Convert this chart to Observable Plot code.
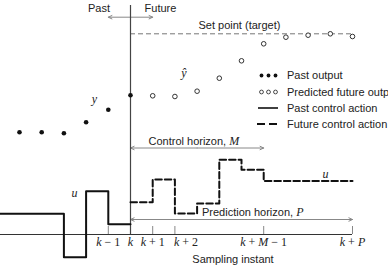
<!DOCTYPE html>
<html><head><meta charset="utf-8">
<script src="https://cdn.jsdelivr.net/npm/d3@7"></script>
<script src="https://cdn.jsdelivr.net/npm/@observablehq/plot@0.6"></script>
<style>
html,body{margin:0;padding:0;background:#fff;overflow:hidden;}
#chart svg{display:block;overflow:hidden;}
</style></head><body><div id="chart"></div>
<script>
// Sampling instants are counted relative to k (k = 0)
const pastInstants = [-5, -4, -3, -2, -1, 0];
const pastOutput = [102.3, 102.3, 101.3, 112.3, 124.7, 139.3];
const futureInstants = [1, 2, 3, 4, 5, 6, 7, 8, 9, 10];
const predictedOutput = [138.7, 138, 143.3, 156.3, 173.7, 190.7, 197.3, 199.3, 200.7, 198];
const setPoint = 200.7;
const pastMoveInstants = [-6, -3, -2, -1];
const pastControl = [20.7, -22.7, 43.3, 10.3];
const futureMoveInstants = [0, 1, 2, 3, 4, 5, 6];
const futureControl = [32.3, 55, 21, 31, 74.7, 64.7, 53.5];
const controlHorizonEnd = 6;      // k + M - 1
const predictionHorizonEnd = 10;  // k + P
const tickInstants = [-1, 0, 1, 2, 6, 10];
const tickLabels = ["k − 1", "k", "k + 1", "k + 2", "k + M − 1", "k + P"];
const legendLabels = ["Past output", "Predicted future output", "Past control action", "Future control action"];
const horizonLabels = ["Control horizon, M", "Prediction horizon, P"];

// ---- layout ----
const W = 388, H = 265;
const STEP = 22.2, K_PX = 130, AXIS_PX = 234;
const X = px => (px - K_PX) / STEP;   // pixel -> sample instant (layout helper)
const Y = py => AXIS_PX - py;         // pixel -> level (layout helper)
const xDomain = [X(0), X(W)];
const yDomain = [Y(H), Y(0)];

const SANS = "'Liberation Sans', Arial, sans-serif";
const SERIF = "'Liberation Serif', 'Times New Roman', serif";
const INK = "#222";

const pastSteps = pastMoveInstants.map((t, i) => ({t, u: pastControl[i]}))
  .concat([{t: 0, u: pastControl[pastControl.length - 1]}]);
const futureSteps = futureMoveInstants.map((t, i) => ({t, u: futureControl[i]}))
  .concat([{t: predictionHorizonEnd, u: futureControl[futureControl.length - 1]}]);
const pastPts = pastInstants.map((t, i) => ({t, y: pastOutput[i]}));
const predPts = futureInstants.map((t, i) => ({t, y: predictedOutput[i]}));
const ticks = tickInstants.map((t, i) => ({t, label: tickLabels[i]}));

// legend layout
const legendRowsPx = [75, 91.5, 107.5, 123.5];
const legendText = legendLabels.map((label, i) => ({x: X(286.5), y: Y(legendRowsPx[i]), label}));
const legendDotXs = [261, 268, 275].map(X);
const legendDots = legendDotXs.map(x => ({x, y: Y(legendRowsPx[0])}));
const legendCircles = legendDotXs.map(x => ({x, y: Y(legendRowsPx[1])}));

const arrows = [
  {x1: 0, x2: -1, y: Y(16.7)}, {x1: 0, x2: 1, y: Y(16.7)},
  {x1: controlHorizonEnd / 2, x2: 0, y: Y(147.5)}, {x1: controlHorizonEnd / 2, x2: controlHorizonEnd, y: Y(147.5)},
  {x1: predictionHorizonEnd / 2, x2: 0, y: Y(219)}, {x1: predictionHorizonEnd / 2, x2: predictionHorizonEnd, y: Y(219)}
];

const plot = Plot.plot({
  width: W, height: H,
  marginTop: 0, marginRight: 0, marginBottom: 0, marginLeft: 0,
  x: {domain: xDomain, axis: null},
  y: {domain: yDomain, axis: null},
  style: {fontFamily: SANS, fontSize: "11px", background: "white", color: INK},
  marks: [
    // set point
    Plot.ruleY([setPoint], {x1: 0, x2: predictionHorizonEnd + 0.05, stroke: "#777", strokeWidth: 1, strokeDasharray: "5,3"}),
    // arrows
    Plot.arrow(arrows, {x1: "x1", x2: "x2", y1: "y", y2: "y", stroke: "#888", strokeWidth: 1, headLength: 6, headAngle: 50}),
    // time axis
    Plot.ruleY([0], {x1: xDomain[0], x2: predictionHorizonEnd, stroke: "#333", strokeWidth: 1}),
    Plot.ruleX(ticks, {x: "t", y1: 0, y2: 8, stroke: "#888", strokeWidth: 1}),
    // present instant k
    Plot.ruleX([0], {y1: 0, y2: Y(5), stroke: "#444", strokeWidth: 1.2}),
    // control action
    Plot.line(pastSteps, {x: "t", y: "u", curve: "step-after", stroke: "#111", strokeWidth: 2, clip: true}),
    Plot.line(futureSteps, {x: "t", y: "u", curve: "step-after", stroke: "#111", strokeWidth: 2, strokeDasharray: "6.5,3"}),
    // outputs
    Plot.dot(pastPts, {x: "t", y: "y", r: 2.3, fill: "#111", stroke: "none"}),
    Plot.dot(predPts, {x: "t", y: "y", r: 2.3, fill: "white", stroke: "#333", strokeWidth: 1}),
    // tick labels
    Plot.text(ticks.filter(d => d.label !== "k + 2"), {x: "t", y: Y(242), text: "label", fontFamily: SERIF, fontSize: 12, fill: INK}),
    Plot.text(ticks.filter(d => d.label === "k + 2"), {x: "t", y: Y(242), text: "label", textAnchor: "start", dx: -1, fontFamily: SERIF, fontSize: 12, fill: INK}),
    Plot.text(["Sampling instant"], {x: X(232.5), y: Y(258.5), fill: INK}),
    // annotations
    Plot.text(["Past"], {x: X(98.5), y: Y(8), fill: INK}),
    Plot.text(["Future"], {x: X(160), y: Y(8), fill: INK}),
    Plot.text(["Set point (target)"], {x: X(198), y: Y(25), textAnchor: "start", fill: INK}),
    Plot.text([horizonLabels[0]], {x: X(148), y: Y(141), textAnchor: "start", fill: INK}),
    Plot.text([horizonLabels[1]], {x: X(201.5), y: Y(211.5), textAnchor: "start", fill: INK}),
    Plot.text(["y"], {x: X(94), y: Y(99), fontFamily: SERIF, fontStyle: "italic", fontSize: 12, fill: INK}),
    Plot.text(["ŷ"], {x: X(183.3), y: Y(73), fontFamily: SERIF, fontStyle: "italic", fontSize: 12, fill: INK}),
    Plot.text(["u"], {x: X(74), y: Y(193), fontFamily: SERIF, fontStyle: "italic", fontSize: 12, fill: INK}),
    Plot.text(["u"], {x: X(325), y: Y(174), fontFamily: SERIF, fontStyle: "italic", fontSize: 12, fill: INK}),
    // legend
    Plot.dot(legendDots, {x: "x", y: "y", r: 1.9, fill: "#111", stroke: "none"}),
    Plot.dot(legendCircles, {x: "x", y: "y", r: 1.9, fill: "white", stroke: "#333", strokeWidth: 0.9}),
    Plot.ruleY([Y(legendRowsPx[2])], {x1: X(258), x2: X(278), stroke: "#111", strokeWidth: 1.6}),
    Plot.ruleY([Y(legendRowsPx[3])], {x1: X(257), x2: X(278), stroke: "#111", strokeWidth: 1.8, strokeDasharray: "8,4"}),
    Plot.text(legendText, {x: "x", y: "y", text: "label", textAnchor: "start", fill: INK})
  ]
});

// italicize the mathematical symbols k, M, P inside the labels
const mathTexts = new Set([...tickLabels, ...horizonLabels]);
plot.querySelectorAll("text").forEach(node => {
  const s = node.textContent;
  if (!mathTexts.has(s)) return;
  const parts = s.split(/(\b[kMP]\b)/);
  while (node.firstChild) node.removeChild(node.firstChild);
  parts.forEach(p => {
    if (!p) return;
    const ts = document.createElementNS("http://www.w3.org/2000/svg", "tspan");
    ts.textContent = p;
    if (/^[kMP]$/.test(p)) {
      ts.setAttribute("font-style", "italic");
      ts.setAttribute("font-family", SERIF);
      ts.setAttribute("font-size", "12");
    }
    node.appendChild(ts);
  });
});

document.getElementById("chart").appendChild(plot);
</script></body></html>
